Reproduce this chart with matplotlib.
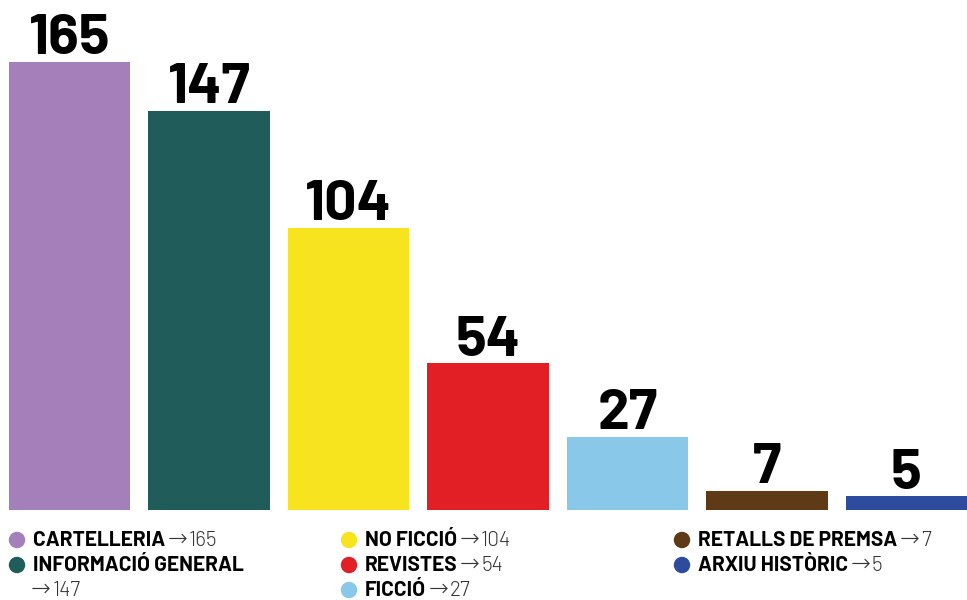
import matplotlib
matplotlib.use("Agg")
import matplotlib.pyplot as plt
import numpy as np

categories = ["CARTELLERIA", "INFORMACIÓ GENERAL", "NO FICCIÓ", "REVISTES",
              "FICCIÓ", "RETALLS DE PREMSA", "ARXIU HISTÒRIC"]
values = [165, 147, 104, 54, 27, 7, 5]
colors = ["#A57FB9", "#1F5C5A", "#F7E41F", "#E31F26", "#8AC8EA", "#5E3A16", "#2E4C9E"]

W, H = 967, 600
fig = plt.figure(figsize=(W / 100, H / 100), dpi=100)

# bar axes: bottom at y=510 px, top (165) at y=62 px
ax = fig.add_axes([9 / W, 90 / H, 958 / W, 448 / H])
xs = np.arange(len(values))
ax.bar(xs, values, 0.87, color=colors)
ax.set_xlim(-0.435, len(values) - 1 + 0.435)
ax.set_ylim(0, max(values))
ax.axis("off")
for x, v in zip(xs, values):
    ax.annotate(str(v), (x, v), xytext=(0, 5.5), textcoords="offset points",
                ha="center", va="baseline", fontsize=41, fontweight="bold",
                family=["Barlow", "DejaVu Sans"], clip_on=False)

# legend in pixel coordinates
lg = fig.add_axes([0, 0, 1, 1])
lg.set_xlim(0, W)
lg.set_ylim(H, 0)
lg.axis("off")
cols_x = [17, 349, 682]
rows_y = [540, 565, 590]
slots = [(0, 0), (0, 1), (1, 0), (1, 1), (1, 2), (2, 0), (2, 1)]
bold = dict(fontsize=15, fontweight="bold", family=["Barlow", "DejaVu Sans"],
            va="baseline", ha="left")
arrow = dict(fontsize=17, fontweight="light", color="#333333",
             family=["DejaVu Sans"], ha="left", va="baseline")
light = dict(fontsize=15, fontweight=300, color="#333333",
             family=["Barlow", "DejaVu Sans"], ha="left", va="baseline")


def arrow_value(anchor, base, v, dx):
    # x follows the end of the anchor text, y stays on the text baseline
    lg.annotate("\u2192", xy=(1, base), xycoords=(anchor, "data"),
                xytext=(dx, 0), textcoords="offset points", **arrow)
    lg.annotate(str(v), xy=(1, base), xycoords=(anchor, "data"),
                xytext=(dx + 15.5, 0), textcoords="offset points", **light)


for (c, r), name, v, col in zip(slots, categories, values, colors):
    x, y = cols_x[c], rows_y[r]
    lg.scatter([x], [y], s=140, color=col, edgecolor="none")
    t = lg.text(x + 16, y + 6, name, **bold)
    if name == "INFORMACIÓ GENERAL":
        base = rows_y[2] + 6
        t2 = lg.text(x + 14, base, "", **bold)
        arrow_value(t2, base, v, 0)
    else:
        arrow_value(t, y + 6, v, 1.5)

fig.savefig("out.png", dpi=100)
